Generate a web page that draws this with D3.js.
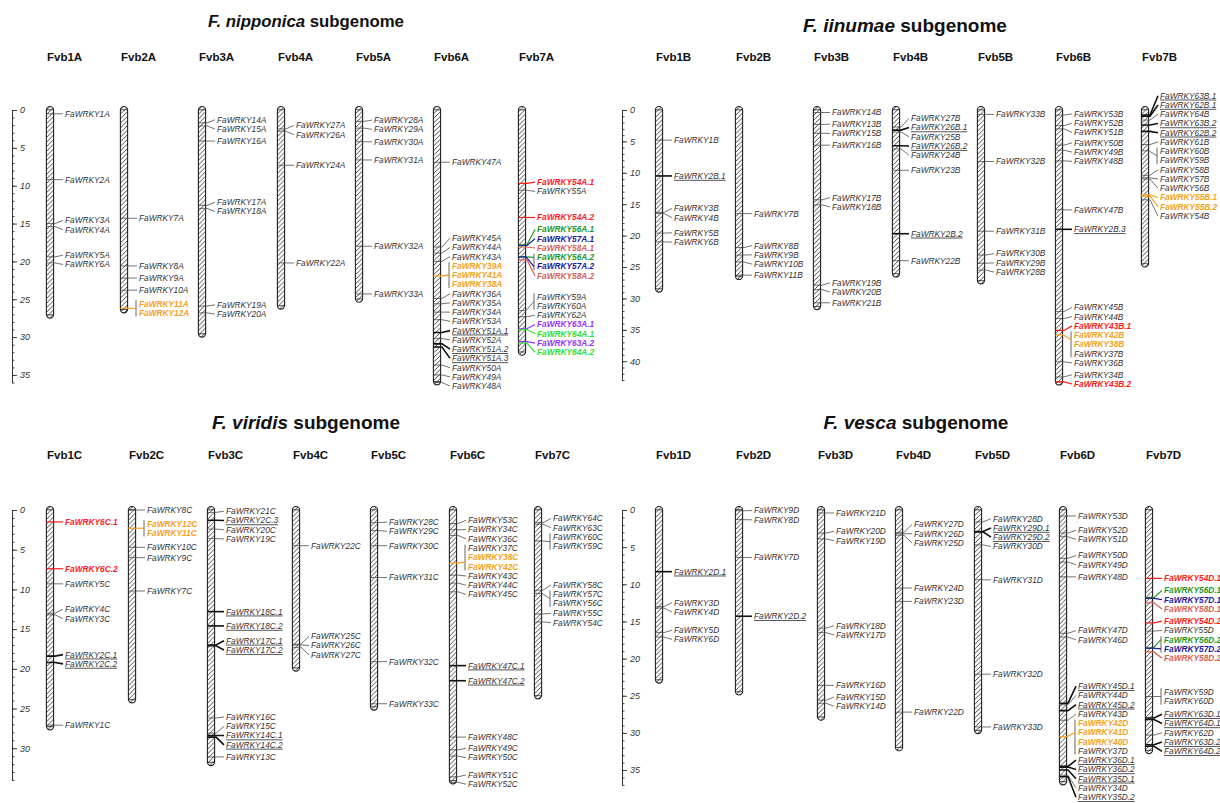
<!DOCTYPE html>
<html><head><meta charset="utf-8">
<script src="https://cdn.jsdelivr.net/npm/d3@7"></script>
<style>
body{margin:0;background:#fff;}
svg{display:block;font-family:Arial,"Liberation Sans",sans-serif;}
</style></head><body>
<svg id="chart" width="1220" height="803"></svg>
<script>
// ---------------- DATA ----------------
const speciesNames = ["F. nipponica", "F. iinumae", "F. viridis", "F. vesca"];

const chromsA = ["Fvb1A","Fvb2A","Fvb3A","Fvb4A","Fvb5A","Fvb6A","Fvb7A"];
const lengthsA = [27.5, 26.8, 30.0, 26.3, 25.4, 36.3, 32.4];
const chromsB = ["Fvb1B","Fvb2B","Fvb3B","Fvb4B","Fvb5B","Fvb6B","Fvb7B"];
const lengthsB = [29.0, 27.0, 31.8, 26.6, 27.7, 43.8, 25.0];
const chromsC = ["Fvb1C","Fvb2C","Fvb3C","Fvb4C","Fvb5C","Fvb6C","Fvb7C"];
const lengthsC = [27.7, 24.3, 32.2, 20.3, 25.2, 34.5, 23.8];
const chromsD = ["Fvb1D","Fvb2D","Fvb3D","Fvb4D","Fvb5D","Fvb6D","Fvb7D"];
const lengthsD = [23.3, 24.9, 28.3, 32.4, 30.1, 37.0, 32.8];

const ticksA = [0,5,10,15,20,25,30,35];
const ticksB = [0,5,10,15,20,25,30,35,40];
const ticksC = [0,5,10,15,20,25,30];
const ticksD = [0,5,10,15,20,25,30,35];
const axisMaxA = 36, axisMaxB = 43, axisMaxC = 34, axisMaxD = 37;

// [chromosome, position (Mb), gene, colour key, underlined, tandem group]
const genesA = [
 ["Fvb1A",0.5,"FaWRKY1A"],["Fvb1A",9.2,"FaWRKY2A"],["Fvb1A",15.0,"FaWRKY3A"],["Fvb1A",15.4,"FaWRKY4A"],
 ["Fvb1A",19.4,"FaWRKY5A"],["Fvb1A",20.2,"FaWRKY6A"],
 ["Fvb2A",14.3,"FaWRKY7A"],["Fvb2A",20.6,"FaWRKY8A"],["Fvb2A",22.2,"FaWRKY9A"],["Fvb2A",23.8,"FaWRKY10A"],
 ["Fvb2A",26.2,"FaWRKY11A","o",0,"t1"],["Fvb2A",26.2,"FaWRKY12A","o",0,"t1"],
 ["Fvb3A",1.7,"FaWRKY14A"],["Fvb3A",2.1,"FaWRKY15A"],["Fvb3A",4.1,"FaWRKY16A"],["Fvb3A",12.6,"FaWRKY17A"],
 ["Fvb3A",13.0,"FaWRKY18A"],["Fvb3A",25.9,"FaWRKY19A"],["Fvb3A",26.8,"FaWRKY20A"],
 ["Fvb4A",2.5,"FaWRKY27A"],["Fvb4A",2.8,"FaWRKY26A"],["Fvb4A",7.3,"FaWRKY24A"],["Fvb4A",20.2,"FaWRKY22A"],
 ["Fvb5A",1.5,"FaWRKY28A"],["Fvb5A",2.4,"FaWRKY29A"],["Fvb5A",4.2,"FaWRKY30A"],["Fvb5A",6.6,"FaWRKY31A"],
 ["Fvb5A",18.0,"FaWRKY32A"],["Fvb5A",24.3,"FaWRKY33A"],
 ["Fvb6A",6.9,"FaWRKY47A"],["Fvb6A",18.1,"FaWRKY45A"],["Fvb6A",18.9,"FaWRKY44A"],["Fvb6A",20.0,"FaWRKY43A"],
 ["Fvb6A",21.9,"FaWRKY39A","o",0,"t1"],["Fvb6A",21.9,"FaWRKY41A","o",0,"t1"],["Fvb6A",21.9,"FaWRKY38A","o",0,"t1"],
 ["Fvb6A",24.9,"FaWRKY36A"],["Fvb6A",25.6,"FaWRKY35A"],["Fvb6A",26.7,"FaWRKY34A"],["Fvb6A",27.7,"FaWRKY53A"],
 ["Fvb6A",29.4,"FaWRKY51A.1","",1],["Fvb6A",30.2,"FaWRKY52A"],["Fvb6A",30.9,"FaWRKY51A.2","",1],
 ["Fvb6A",31.3,"FaWRKY51A.3","",1],["Fvb6A",33.7,"FaWRKY50A"],["Fvb6A",35.0,"FaWRKY49A"],["Fvb6A",36.0,"FaWRKY48A"],
 ["Fvb7A",9.7,"FaWRKY54A.1","r"],["Fvb7A",10.6,"FaWRKY55A"],["Fvb7A",14.2,"FaWRKY54A.2","r"],
 ["Fvb7A",17.8,"FaWRKY56A.1","g"],["Fvb7A",17.9,"FaWRKY57A.1","b"],["Fvb7A",18.1,"FaWRKY58A.1","s"],
 ["Fvb7A",19.4,"FaWRKY56A.2","g",0,"t1"],["Fvb7A",19.4,"FaWRKY57A.2","b",0,"t1"],["Fvb7A",19.8,"FaWRKY58A.2","s"],
 ["Fvb7A",26.5,"FaWRKY59A","",0,"t2"],["Fvb7A",26.5,"FaWRKY60A","",0,"t2"],["Fvb7A",27.3,"FaWRKY62A"],
 ["Fvb7A",28.9,"FaWRKY63A.1","p"],["Fvb7A",29.0,"FaWRKY64A.1","l"],["Fvb7A",30.6,"FaWRKY63A.2","p"],
 ["Fvb7A",30.8,"FaWRKY64A.2","l"]
];

const genesB = [
 ["Fvb1B",4.8,"FaWRKY1B"],["Fvb1B",10.5,"FaWRKY2B.1","",1],["Fvb1B",16.3,"FaWRKY3B"],["Fvb1B",16.5,"FaWRKY4B"],
 ["Fvb1B",19.6,"FaWRKY5B"],["Fvb1B",21.0,"FaWRKY6B"],
 ["Fvb2B",16.5,"FaWRKY7B"],["Fvb2B",21.9,"FaWRKY8B"],["Fvb2B",23.1,"FaWRKY9B"],["Fvb2B",24.2,"FaWRKY10B"],
 ["Fvb2B",26.3,"FaWRKY11B"],
 ["Fvb3B",0.4,"FaWRKY14B"],["Fvb3B",2.3,"FaWRKY13B"],["Fvb3B",3.7,"FaWRKY15B"],["Fvb3B",5.6,"FaWRKY16B"],
 ["Fvb3B",14.3,"FaWRKY17B"],["Fvb3B",15.1,"FaWRKY18B"],["Fvb3B",27.9,"FaWRKY19B"],["Fvb3B",28.6,"FaWRKY20B"],
 ["Fvb3B",30.7,"FaWRKY21B"],
 ["Fvb4B",2.7,"FaWRKY27B"],["Fvb4B",3.2,"FaWRKY26B.1","",1],["Fvb4B",3.5,"FaWRKY25B"],["Fvb4B",5.7,"FaWRKY26B.2","",1],
 ["Fvb4B",6.2,"FaWRKY24B"],["Fvb4B",9.6,"FaWRKY23B"],["Fvb4B",19.7,"FaWRKY2B.2","",1],["Fvb4B",24.0,"FaWRKY22B"],
 ["Fvb5B",0.7,"FaWRKY33B"],["Fvb5B",8.2,"FaWRKY32B"],["Fvb5B",19.3,"FaWRKY31B"],["Fvb5B",23.1,"FaWRKY30B"],
 ["Fvb5B",24.4,"FaWRKY29B"],["Fvb5B",25.5,"FaWRKY28B"],
 ["Fvb6B",0.8,"FaWRKY53B"],["Fvb6B",2.5,"FaWRKY52B"],["Fvb6B",3.0,"FaWRKY51B"],["Fvb6B",5.6,"FaWRKY50B"],
 ["Fvb6B",6.4,"FaWRKY49B"],["Fvb6B",8.1,"FaWRKY48B"],["Fvb6B",15.9,"FaWRKY47B"],["Fvb6B",19.0,"FaWRKY2B.3","",1],
 ["Fvb6B",32.1,"FaWRKY45B"],["Fvb6B",33.2,"FaWRKY44B"],["Fvb6B",35.1,"FaWRKY43B.1","r"],
 ["Fvb6B",35.8,"FaWRKY42B","o",0,"t1"],["Fvb6B",35.8,"FaWRKY38B","o",0,"t1"],["Fvb6B",35.8,"FaWRKY37B","",0,"t1"],
 ["Fvb6B",40.1,"FaWRKY36B"],["Fvb6B",42.5,"FaWRKY34B"],["Fvb6B",43.3,"FaWRKY43B.2","r"],
 ["Fvb7B",0.8,"FaWRKY63B.1","",1],["Fvb7B",1.0,"FaWRKY62B.1","",1],["Fvb7B",1.6,"FaWRKY64B"],
 ["Fvb7B",2.4,"FaWRKY63B.2","",1],["Fvb7B",3.4,"FaWRKY62B.2","",1],["Fvb7B",5.5,"FaWRKY61B"],
 ["Fvb7B",6.5,"FaWRKY60B","",0,"t1"],["Fvb7B",6.5,"FaWRKY59B","",0,"t1"],["Fvb7B",10.4,"FaWRKY58B"],
 ["Fvb7B",10.8,"FaWRKY57B"],["Fvb7B",11.0,"FaWRKY56B"],["Fvb7B",13.5,"FaWRKY55B.1","o"],
 ["Fvb7B",13.7,"FaWRKY55B.2","o"],["Fvb7B",14.3,"FaWRKY54B"]
];

const genesC = [
 ["Fvb1C",1.5,"FaWRKY6C.1","r"],["Fvb1C",7.4,"FaWRKY6C.2","r"],["Fvb1C",9.3,"FaWRKY5C"],["Fvb1C",13.0,"FaWRKY4C"],
 ["Fvb1C",13.2,"FaWRKY3C"],["Fvb1C",18.4,"FaWRKY2C.1","",1],["Fvb1C",19.2,"FaWRKY2C.2","",1],["Fvb1C",27.1,"FaWRKY1C"],
 ["Fvb2C",0.0,"FaWRKY8C"],["Fvb2C",2.3,"FaWRKY12C","o",0,"t1"],["Fvb2C",2.3,"FaWRKY11C","o",0,"t1"],
 ["Fvb2C",4.7,"FaWRKY10C"],["Fvb2C",6.0,"FaWRKY9C"],["Fvb2C",10.2,"FaWRKY7C"],
 ["Fvb3C",0.3,"FaWRKY21C"],["Fvb3C",1.3,"FaWRKY2C.3","",1],["Fvb3C",2.4,"FaWRKY20C"],["Fvb3C",3.6,"FaWRKY19C"],
 ["Fvb3C",12.8,"FaWRKY18C.1","",1],["Fvb3C",14.6,"FaWRKY18C.2","",1],["Fvb3C",17.0,"FaWRKY17C.1","",1],
 ["Fvb3C",17.1,"FaWRKY17C.2","",1],["Fvb3C",26.2,"FaWRKY16C"],["Fvb3C",28.1,"FaWRKY15C"],
 ["Fvb3C",28.4,"FaWRKY14C.1","",1],["Fvb3C",28.6,"FaWRKY14C.2","",1],["Fvb3C",31.1,"FaWRKY13C"],
 ["Fvb4C",4.5,"FaWRKY22C"],["Fvb4C",16.9,"FaWRKY25C"],["Fvb4C",17.0,"FaWRKY26C"],["Fvb4C",17.3,"FaWRKY27C"],
 ["Fvb5C",1.6,"FaWRKY28C"],["Fvb5C",2.6,"FaWRKY29C"],["Fvb5C",4.5,"FaWRKY30C"],["Fvb5C",8.5,"FaWRKY31C"],
 ["Fvb5C",19.1,"FaWRKY32C"],["Fvb5C",24.4,"FaWRKY33C"],
 ["Fvb6C",1.7,"FaWRKY53C"],["Fvb6C",2.5,"FaWRKY34C"],["Fvb6C",3.2,"FaWRKY36C"],
 ["Fvb6C",6.7,"FaWRKY37C","",0,"t1"],["Fvb6C",6.7,"FaWRKY38C","o",0,"t1"],["Fvb6C",6.7,"FaWRKY42C","o",0,"t1"],
 ["Fvb6C",8.2,"FaWRKY43C"],["Fvb6C",9.2,"FaWRKY44C"],["Fvb6C",10.3,"FaWRKY45C"],["Fvb6C",19.6,"FaWRKY47C.1","",1],
 ["Fvb6C",21.5,"FaWRKY47C.2","",1],["Fvb6C",28.6,"FaWRKY48C"],["Fvb6C",30.2,"FaWRKY49C"],["Fvb6C",31.0,"FaWRKY50C"],
 ["Fvb6C",33.6,"FaWRKY51C"],["Fvb6C",34.3,"FaWRKY52C"],
 ["Fvb7C",1.6,"FaWRKY64C"],["Fvb7C",1.8,"FaWRKY63C"],["Fvb7C",3.9,"FaWRKY60C","",0,"t1"],
 ["Fvb7C",3.9,"FaWRKY59C","",0,"t1"],["Fvb7C",10.1,"FaWRKY58C"],["Fvb7C",10.5,"FaWRKY57C","",0,"t2"],
 ["Fvb7C",10.5,"FaWRKY56C","",0,"t2"],["Fvb7C",13.1,"FaWRKY55C"],["Fvb7C",14.1,"FaWRKY54C"]
];

const genesD = [
 ["Fvb1D",8.3,"FaWRKY2D.1","",1],["Fvb1D",13.0,"FaWRKY3D"],["Fvb1D",13.2,"FaWRKY4D"],["Fvb1D",16.5,"FaWRKY5D"],
 ["Fvb1D",17.1,"FaWRKY6D"],
 ["Fvb2D",0.1,"FaWRKY9D"],["Fvb2D",1.3,"FaWRKY8D"],["Fvb2D",6.4,"FaWRKY7D"],["Fvb2D",14.3,"FaWRKY2D.2","",1],
 ["Fvb3D",0.4,"FaWRKY21D"],["Fvb3D",3.1,"FaWRKY20D"],["Fvb3D",3.9,"FaWRKY19D"],["Fvb3D",15.9,"FaWRKY18D"],
 ["Fvb3D",16.5,"FaWRKY17D"],["Fvb3D",23.6,"FaWRKY16D"],["Fvb3D",25.6,"FaWRKY15D"],["Fvb3D",26.0,"FaWRKY14D"],
 ["Fvb4D",3.0,"FaWRKY27D"],["Fvb4D",3.2,"FaWRKY26D"],["Fvb4D",3.4,"FaWRKY25D"],["Fvb4D",10.5,"FaWRKY24D"],
 ["Fvb4D",12.3,"FaWRKY23D"],["Fvb4D",27.2,"FaWRKY22D"],
 ["Fvb5D",1.6,"FaWRKY28D"],["Fvb5D",2.9,"FaWRKY29D.1","",1],["Fvb5D",2.95,"FaWRKY29D.2","",1],["Fvb5D",4.7,"FaWRKY30D"],
 ["Fvb5D",9.4,"FaWRKY31D"],["Fvb5D",22.1,"FaWRKY32D"],["Fvb5D",29.2,"FaWRKY33D"],
 ["Fvb6D",0.8,"FaWRKY53D"],["Fvb6D",3.1,"FaWRKY52D"],["Fvb6D",3.6,"FaWRKY51D"],["Fvb6D",6.5,"FaWRKY50D"],
 ["Fvb6D",7.0,"FaWRKY49D"],["Fvb6D",9.0,"FaWRKY48D"],["Fvb6D",16.6,"FaWRKY47D"],["Fvb6D",17.1,"FaWRKY46D"],
 ["Fvb6D",26.0,"FaWRKY45D.1","",1],["Fvb6D",26.2,"FaWRKY44D"],["Fvb6D",27.0,"FaWRKY45D.2","",1],["Fvb6D",28.3,"FaWRKY43D"],
 ["Fvb6D",30.5,"FaWRKY42D","o",0,"t1"],["Fvb6D",30.5,"FaWRKY41D","o",0,"t1"],["Fvb6D",30.5,"FaWRKY40D","o",0,"t1"],
 ["Fvb6D",30.5,"FaWRKY37D","",0,"t1"],["Fvb6D",34.5,"FaWRKY36D.1","",1],["Fvb6D",34.6,"FaWRKY36D.2","",1],
 ["Fvb6D",35.0,"FaWRKY35D.1","",1],["Fvb6D",35.7,"FaWRKY34D"],["Fvb6D",35.9,"FaWRKY35D.2","",1],
 ["Fvb7D",9.2,"FaWRKY54D.1","r"],["Fvb7D",11.8,"FaWRKY56D.1","g"],["Fvb7D",11.9,"FaWRKY57D.1","b"],
 ["Fvb7D",12.5,"FaWRKY58D.1","s"],["Fvb7D",15.2,"FaWRKY54D.2","r"],["Fvb7D",16.3,"FaWRKY55D"],
 ["Fvb7D",18.6,"FaWRKY56D.2","g",0,"t1"],["Fvb7D",18.6,"FaWRKY57D.2","b",0,"t1"],["Fvb7D",19.1,"FaWRKY58D.2","s"],
 ["Fvb7D",25.1,"FaWRKY59D","",0,"t2"],["Fvb7D",25.1,"FaWRKY60D","",0,"t2"],["Fvb7D",28.0,"FaWRKY63D.1","",1],
 ["Fvb7D",28.2,"FaWRKY64D.1","",1],["Fvb7D",30.3,"FaWRKY62D"],["Fvb7D",31.6,"FaWRKY63D.2","",1],
 ["Fvb7D",31.8,"FaWRKY64D.2","",1]
];

// ---------------- STYLE / LAYOUT ----------------
const colourMap = {r:"#ff1a1a", o:"#f5a11e", g:"#1e9626", b:"#1a1a9a", s:"#d65f57", p:"#9b30ff", l:"#2fe02f"};
const GAP = 9.25;
const layouts = [
 {axisX:12,  y0:110, ppu:7.57, slots:[50,124,202,281,359,437,522],   titleX:306, titleY:27,  titleSize:16.8, labelY:61},
 {axisX:622, y0:110, ppu:6.28, slots:[659,739,817,896,981,1059,1145], titleX:905, titleY:32,  titleSize:19, labelY:61},
 {axisX:12,  y0:510, ppu:7.94, slots:[50,132,211,296,374,453,538],   titleX:306, titleY:429, titleSize:19, labelY:459},
 {axisX:622, y0:510, ppu:7.43, slots:[659,739,821,899,978,1063,1149], titleX:916, titleY:429, titleSize:19, labelY:459}
];

const svg = d3.select("#chart");
svg.append("rect").attr("width",1220).attr("height",803).attr("fill","#fff");
const defs = svg.append("defs");
const pat = defs.append("pattern").attr("id","hatch").attr("patternUnits","userSpaceOnUse")
  .attr("width",4.6).attr("height",4.6);
pat.append("rect").attr("width",4.6).attr("height",4.6).attr("fill","#fff");
pat.append("path").attr("d","M-1.15,1.15 L1.15,-1.15 M0,4.6 L4.6,0 M3.45,5.75 L5.75,3.45")
  .attr("stroke","#333").attr("stroke-width",0.9);

function drawPanel(L, species, chroms, lengths, genes, ticks, axisMax) {
  const g = svg.append("g");
  const y = d3.scaleLinear().domain([0, axisMax]).range([L.y0, L.y0 + axisMax * L.ppu]);
  const x = d3.scaleOrdinal().domain(chroms).range(L.slots);

  const t = g.append("text").attr("x", L.titleX).attr("y", L.titleY).attr("text-anchor","middle")
    .attr("font-size",L.titleSize).attr("font-weight","bold").attr("fill","#111");
  t.append("tspan").attr("font-style","italic").text(species);
  t.append("tspan").text(" subgenome");

  // axis
  const minor = d3.axisRight(y).tickValues(d3.range(0, axisMax + 0.001, 1)).tickSize(2.5).tickSizeOuter(0).tickFormat("");
  const major = d3.axisRight(y).tickValues(ticks).tickSize(5).tickSizeOuter(0).tickPadding(3);
  const ga = g.append("g").attr("transform", `translate(${L.axisX},0)`);
  ga.append("g").call(minor);
  const gm = ga.append("g").call(major);
  ga.selectAll("path,line").attr("stroke","#333").attr("stroke-width",0.9);
  gm.selectAll("text").attr("font-size",9).attr("font-style","italic").attr("fill","#333").attr("font-family","Arial, 'Liberation Sans', sans-serif");

  chroms.forEach((name, i) => {
    const cx = x(name);
    const len = lengths[i];
    g.append("text").attr("x", cx - 3).attr("y", L.labelY).attr("font-size",11.5)
      .attr("font-weight","bold").attr("fill","#111").text(name);

    // chromosome body
    const top = y(0) - 3.5, bot = y(len);
    g.append("rect").attr("x", cx - 3.6).attr("y", top).attr("width", 7.2).attr("height", bot - top)
      .attr("rx", 3.6).attr("fill","url(#hatch)").attr("stroke","#222").attr("stroke-width",1.1);
    g.append("line").attr("x1",cx-3.2).attr("x2",cx+3.2).attr("y1",top+3.3).attr("y2",top+3.3).attr("stroke","#222").attr("stroke-width",0.8);
    g.append("line").attr("x1",cx-3.2).attr("x2",cx+3.2).attr("y1",bot-3.3).attr("y2",bot-3.3).attr("stroke","#222").attr("stroke-width",0.8);

    // genes -> items (single or tandem group)
    const rows = genes.filter(d => d[0] === name);
    const items = [];
    rows.forEach(r => {
      const grp = r[5] || "";
      if (grp) {
        let it = items.find(k => k.grp === grp);
        if (!it) { it = {grp, pos:r[1], members:[]}; items.push(it); }
        it.members.push(r);
      } else items.push({grp:"", pos:r[1], members:[r]});
    });
    items.forEach(it => { it.target = y(it.pos); it.size = it.members.length * GAP; });
    items.sort((a,b) => a.target - b.target);

    // label dodge (cluster centering)
    let clusters = items.map(it => ({items:[it]}));
    const place = c => {
      let off = 0; const vals = [];
      c.items.forEach(it => { vals.push(it.target - off - it.size/2); off += it.size; });
      c.size = off; c.top = d3.mean(vals);
    };
    clusters.forEach(place);
    let changed = true;
    while (changed) {
      changed = false;
      for (let k = 1; k < clusters.length; k++) {
        const a = clusters[k-1], b = clusters[k];
        if (a.top + a.size > b.top + 0.01) {
          a.items = a.items.concat(b.items); place(a); clusters.splice(k,1); changed = true; break;
        }
      }
    }
    clusters.forEach(c => { let off = c.top; c.items.forEach(it => { it.top = off; off += it.size; }); });

    const lx = cx + 15;
    items.forEach(it => {
      const tY = it.target;
      if (it.members.length === 1) {
        const r = it.members[0];
        const col = r[3] ? colourMap[r[3]] : null;
        const ul = r[4] === 1;
        const ly = it.top + GAP/2;
        g.append("path").attr("d", `M${cx-3.6},${tY} H${cx+5} L${lx-2},${ly}`)
          .attr("fill","none").attr("stroke", col || (ul ? "#111" : "#444"))
          .attr("stroke-width", col ? 1.2 : (ul ? 1.6 : 0.75));
      } else {
        const bx = lx - 3;
        g.append("line").attr("x1",bx).attr("x2",bx).attr("y1",it.top+1).attr("y2",it.top+it.size-1)
          .attr("stroke","#555").attr("stroke-width",0.9);
        const colKeys = [...new Set(it.members.filter(m => m[3]).map(m => m[3]))];
        if (colKeys.length === 0) {
          g.append("path").attr("d", `M${cx-3.6},${tY} H${cx+4} L${bx},${it.top+it.size/2}`)
            .attr("fill","none").attr("stroke","#444").attr("stroke-width",0.75);
        } else {
          colKeys.forEach(ck => {
            const ys = [];
            it.members.forEach((m, k) => { if (m[3] === ck) ys.push(it.top + GAP*(k+0.5)); });
            g.append("path").attr("d", `M${cx-3.6},${tY} H${cx+4} L${bx},${d3.mean(ys)}`)
              .attr("fill","none").attr("stroke", colourMap[ck]).attr("stroke-width",1.2);
          });
        }
      }
      it.members.forEach((m, k) => {
        const col = m[3] ? colourMap[m[3]] : "#333";
        const ul = m[4] === 1;
        g.append("text").attr("x", lx).attr("y", it.top + GAP*(k+0.5)).attr("dy","0.35em")
          .attr("font-size",8.3).attr("font-style","italic")
          .attr("font-weight", m[3] ? "bold" : "normal")
          .attr("fill", col).attr("text-decoration", ul ? "underline" : null)
          .text(m[2]);
      });
    });
  });
}

drawPanel(layouts[0], speciesNames[0], chromsA, lengthsA, genesA, ticksA, axisMaxA);
drawPanel(layouts[1], speciesNames[1], chromsB, lengthsB, genesB, ticksB, axisMaxB);
drawPanel(layouts[2], speciesNames[2], chromsC, lengthsC, genesC, ticksC, axisMaxC);
drawPanel(layouts[3], speciesNames[3], chromsD, lengthsD, genesD, ticksD, axisMaxD);
</script>
</body></html>
